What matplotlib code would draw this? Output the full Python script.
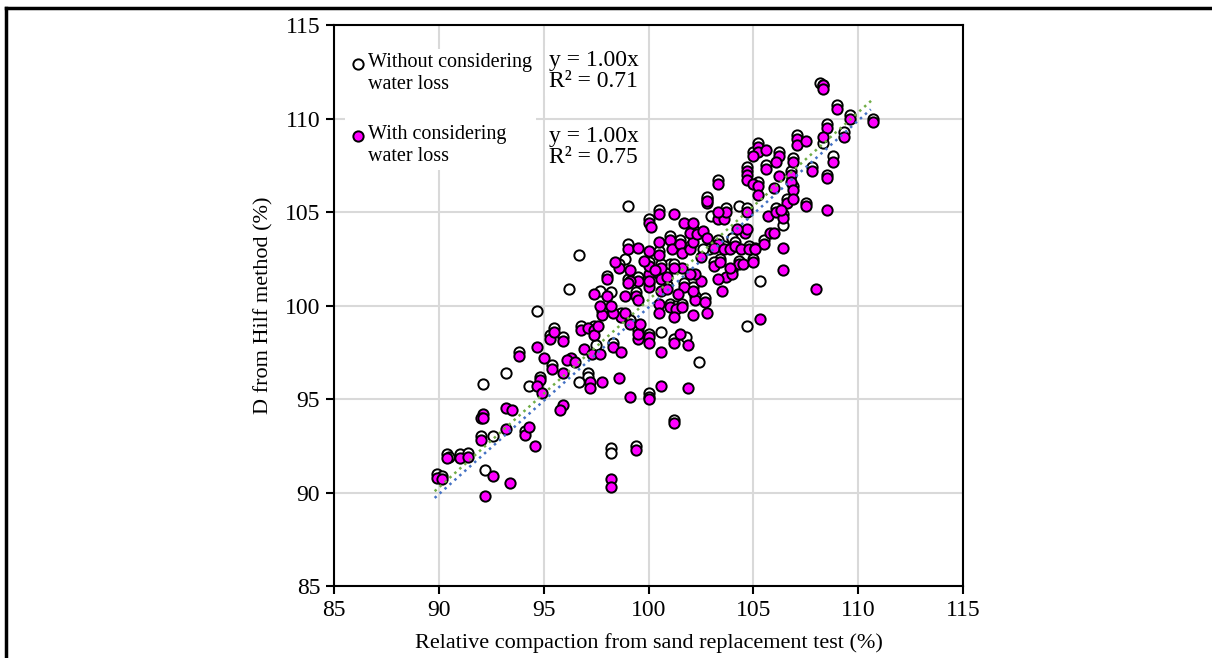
import matplotlib.pyplot as plt
from matplotlib.lines import Line2D

plt.rcParams['font.family'] = ['Liberation Serif', 'DejaVu Serif']

# with considering water loss (magenta)
with_x = [89.9, 90.15, 90.4, 91.0, 91.4, 92.2, 92.0, 92.1, 92.0, 92.6, 93.4, 93.2, 93.2, 94.1, 94.3,
          93.8, 94.6, 94.7, 95.0, 95.3, 95.9, 95.5, 95.4, 95.9, 94.8, 94.7, 94.9, 95.9, 95.8, 96.8,
          97.1, 97.4, 97.4, 96.9, 96.3, 96.1, 97.3, 97.7, 98.3, 98.7, 97.2, 97.2, 97.8, 98.6, 99.1,
          100.0, 100.6, 101.9, 101.9, 101.2, 100.6, 100.0, 100.0, 99.5, 99.5, 99.1, 99.6, 98.7, 98.3, 98.9,
          97.8, 97.7, 98.0, 98.2, 97.4, 98.0, 98.9, 99.4, 99.5, 100.0, 100.0, 100.0, 100.5, 100.6, 100.6,
          100.9, 100.5, 100.5, 101.0, 101.3, 101.2, 101.6, 102.1, 102.2, 102.7, 102.8, 101.7, 102.1, 102.5, 102.2,
          102.0, 101.6, 101.2, 100.6, 100.9, 100.0, 99.5, 99.1, 99.0, 99.1, 98.6, 98.4, 99.0, 99.5, 100.0,
          100.5, 100.5, 101.0, 101.1, 101.5, 101.6, 102.0, 102.1, 102.0, 102.3, 101.7, 102.1, 101.2, 100.5, 100.0,
          100.1, 102.8, 102.6, 102.8, 103.3, 103.1, 103.6, 103.9, 104.1, 104.4, 104.8, 105.1, 105.5, 105.8, 106.0,
          103.3, 103.6, 103.7, 103.3, 104.6, 104.7, 104.7, 103.1, 103.4, 103.7, 104.0, 103.3, 103.5, 104.3, 104.5,
          105.0, 105.7, 106.1, 106.6, 106.4, 106.4, 106.4, 105.3, 108.0, 104.2, 106.3, 105.1,
          108.3, 108.3, 109.0, 109.6, 110.7, 108.5, 109.3, 108.3, 107.1, 107.1, 107.5, 105.2, 105.2, 105.0, 105.6,
          106.2, 106.1, 106.9, 108.8, 104.7, 104.7, 105.6, 106.2, 106.8, 107.8, 108.5, 104.7, 105.0, 105.2, 106.0,
          106.8, 106.9, 103.3, 105.2, 106.9, 107.5, 102.8, 108.5,
          98.2, 98.2, 99.4, 101.2, 92.1, 93.5, 96.5, 97.6, 99.8, 101.4, 102.5, 103.9, 101.5, 100.3]
with_y = [90.8, 90.7, 91.85, 91.85, 91.9, 89.8, 92.8, 94.2, 94.0, 90.9, 90.5, 94.5, 93.4, 93.1, 93.5,
          97.3, 92.5, 97.8, 97.2, 98.2, 98.1, 98.6, 96.6, 96.4, 96.0, 95.7, 95.3, 94.7, 94.4, 98.7,
          98.8, 98.7, 98.4, 97.7, 97.2, 97.1, 97.4, 97.4, 97.8, 97.5, 95.9, 95.6, 95.9, 96.1, 95.1,
          95.0, 95.7, 95.6, 97.9, 98.0, 97.5, 98.3, 98.0, 98.2, 98.5, 99.0, 99.0, 99.4, 99.6, 99.6,
          99.5, 100.0, 100.5, 100.0, 100.6, 101.4, 100.5, 100.5, 100.3, 101.0, 101.7, 101.3, 101.7, 101.4, 100.8,
          100.9, 100.1, 99.6, 99.9, 99.8, 99.4, 99.9, 99.5, 100.3, 100.2, 99.6, 101.0, 100.8, 101.3, 101.7,
          101.7, 102.0, 102.0, 102.0, 101.5, 102.1, 101.3, 101.3, 101.2, 101.9, 102.0, 102.3, 103.0, 103.1, 102.9,
          102.7, 103.4, 103.5, 103.0, 103.3, 102.8, 103.0, 103.4, 103.9, 103.8, 104.4, 104.4, 104.9, 104.9, 104.4,
          104.2, 105.5, 104.0, 103.6, 103.3, 103.1, 103.0, 103.0, 103.2, 103.0, 103.0, 103.1, 103.3, 103.9, 103.9,
          104.6, 104.6, 105.0, 105.0, 103.9, 104.1, 105.0, 102.1, 102.3, 101.5, 101.7, 101.4, 100.8, 102.2, 102.2,
          102.3, 104.8, 105.0, 105.5, 104.7, 103.1, 101.9, 99.3, 100.9, 104.1, 105.1, 103.0,
          111.8, 111.6, 110.5, 110.0, 109.8, 109.5, 109.0, 109.0, 108.9, 108.6, 108.8, 108.5, 108.2, 108.0, 108.3,
          108.0, 107.7, 107.7, 107.7, 107.2, 107.0, 107.3, 106.9, 107.0, 107.2, 106.8, 106.7, 106.5, 106.4, 106.3,
          106.6, 106.2, 106.5, 105.9, 105.7, 105.3, 105.6, 105.1,
          90.7, 90.3, 92.3, 93.7, 94.0, 94.4, 97.0, 98.9, 102.4, 100.6, 102.6, 102.0, 98.5, 101.9]

# without considering water loss (open)
without_x = [89.9, 90.15, 90.4, 91.0, 91.4, 92.1, 93.2, 94.3, 94.7, 96.2, 96.7, 99.0, 92.2, 92.6, 98.2,
             98.2, 99.4, 101.2, 102.4, 101.8, 100.6, 104.7, 105.3, 100.5, 104.3, 106.4, 108.2, 110.7, 108.8, 108.3,
             108.5, 107.5, 109.3, 97.5, 97.1, 97.1, 96.7, 100.0, 100.0, 97.7, 98.2, 99.0, 98.9, 101.0, 102.9,
             103.0, 104.0, 102.6, 92.0, 95.5, 95.3, 95.9, 96.8, 97.4, 98.3, 99.5, 99.1, 98.7, 100.0, 100.5,
             101.0, 101.3, 101.6, 102.2, 102.7, 101.7, 102.1, 100.6, 99.5, 99.0, 100.0, 100.5, 101.0, 101.5, 102.0,
             102.1, 101.2, 100.0, 102.8, 103.3, 103.6, 104.1, 104.8, 105.5, 103.7, 104.7, 103.4, 104.0, 104.3, 105.0,
             106.1, 106.6, 106.4, 107.1, 105.2, 105.0, 106.2, 106.9, 104.7, 105.6, 106.8, 105.2, 106.9, 108.3, 109.0,
             109.6, 108.5, 107.8, 102.8, 103.3, 98.0, 97.8, 99.4, 100.6, 100.9, 98.6, 99.1, 101.2, 103.1, 95.4,
             94.8, 93.8, 94.1, 90.5, 100.0]
without_y = [91.0, 90.9, 92.05, 92.05, 92.1, 95.8, 96.4, 95.7, 99.7, 100.9, 102.7, 105.3, 91.2, 93.0, 92.4,
             92.1, 92.5, 93.9, 97.0, 98.3, 98.6, 98.9, 101.3, 105.1, 105.3, 104.3, 111.9, 110.0, 108.0, 108.7,
             107.0, 105.5, 109.3, 97.9, 96.4, 96.2, 95.9, 95.3, 95.1, 100.8, 100.7, 103.3, 102.5, 102.2, 103.0,
             104.8, 103.6, 103.0, 93.0, 98.8, 98.4, 98.3, 98.9, 98.9, 98.0, 98.7, 99.2, 99.6, 101.2, 101.9,
             100.1, 100.0, 100.1, 100.5, 100.4, 101.2, 101.0, 102.2, 101.5, 101.4, 102.3, 102.9, 103.7, 103.5, 103.2,
             104.1, 102.2, 104.6, 105.7, 103.5, 103.2, 103.4, 103.2, 103.5, 105.2, 105.2, 102.5, 101.9, 102.4, 102.5,
             105.2, 105.7, 104.9, 109.1, 108.7, 108.2, 108.2, 107.9, 107.4, 107.5, 107.2, 106.6, 106.4, 111.8, 110.7,
             110.2, 109.7, 107.4, 105.8, 106.7, 101.6, 99.7, 100.7, 101.6, 101.1, 102.2, 99.2, 98.2, 102.3, 96.8,
             96.2, 97.5, 93.3, 91.9, 98.5]

fig = plt.figure(figsize=(12.12, 6.58), dpi=100)
ax = fig.add_axes([0.2756, 0.1094, 0.519, 0.8526])

ax.scatter(without_x, without_y, s=55, facecolor='white', edgecolor='black', linewidth=1.4, zorder=3,
           label='Without considering\nwater loss')
ax.scatter(with_x, with_y, s=55, facecolor='#ff00ff', edgecolor='black', linewidth=1.4, zorder=4,
           label='With considering\nwater loss')

# trendlines through origin
ax.plot([89.8, 110.6], [89.8 * 0.999, 110.6 * 0.999], linestyle=':', color='#4472c4', linewidth=1.8, zorder=5)
ax.plot([89.8, 110.7], [89.8 * 1.003, 110.7 * 1.003], linestyle=':', color='#70ad47', linewidth=1.8, zorder=5)

ax.set_xlim(85, 115)
ax.set_ylim(85, 115)
ax.set_xticks(range(85, 116, 5))
ax.set_yticks(range(85, 116, 5))
ax.grid(True, color='#d9d9d9', linewidth=1.5)
ax.set_axisbelow(True)
for sp in ax.spines.values():
    sp.set_linewidth(1.5)
ax.tick_params(labelsize=17, length=6, width=1.5, direction='out', pad=4)
ax.set_xlabel('Relative compaction from sand replacement test (%)', fontsize=16, labelpad=9)
ax.set_ylabel('D from Hilf method (%)', fontsize=16, labelpad=8)

leg = ax.legend(loc='upper left', bbox_to_anchor=(0.0175, 0.957), fontsize=14.5, frameon=True,
                handletextpad=0.05, labelspacing=1.55, borderpad=0.2, handlelength=0.9,
                borderaxespad=0.0)
leg.get_frame().set_edgecolor('none')
leg.get_frame().set_facecolor('white')
leg.get_frame().set_alpha(1)
leg.set_zorder(6)
# put the legend marker level with the first text line
for h in leg.legend_handles:
    off = h.get_offsets()
    off[:, 1] += 8
    h.set_offsets(off)

ax.text(0.413, 0.918, 'y = 1.00x\nR² = 0.71', transform=ax.transAxes, fontsize=17, ha='center', va='center',
        linespacing=1.0, zorder=7, bbox=dict(facecolor='white', edgecolor='none', pad=3))
ax.text(0.413, 0.782, 'y = 1.00x\nR² = 0.75', transform=ax.transAxes, fontsize=17, ha='center', va='center',
        linespacing=1.0, zorder=7, bbox=dict(facecolor='white', edgecolor='none', pad=3))

# outer frame lines (left and top)
fig.add_artist(Line2D([0.005, 0.005], [0.0, 0.988], transform=fig.transFigure, color='black', linewidth=2.5))
fig.add_artist(Line2D([0.005, 1.0], [0.988, 0.988], transform=fig.transFigure, color='black', linewidth=2.5))

fig.savefig('out.png', dpi=100)
